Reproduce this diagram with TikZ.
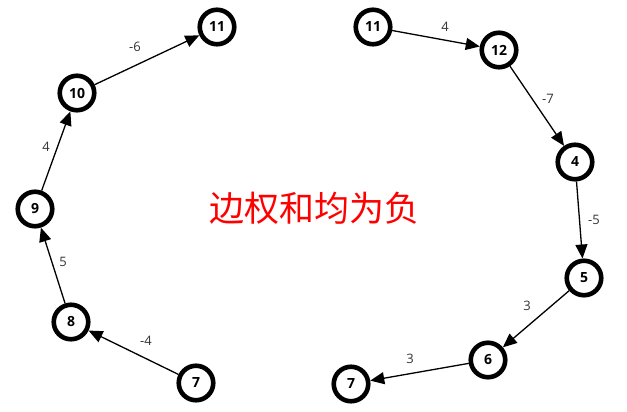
\documentclass[tikz,border=0pt]{standalone}
\usepackage{fontspec}
\setmainfont{Open Sans}
\newfontfamily\cjk{Noto Sans CJK SC}
\usetikzlibrary{arrows.meta}
\begin{document}
\begin{tikzpicture}[x=1pt,y=-1pt,
  vtx/.style={circle,draw=black,line width=4.6pt,minimum size=34.5pt,inner sep=0pt,fill=white,font=\fontsize{14}{14}\selectfont\bfseries},
  edge/.style={line width=1.3pt,-{Triangle[length=14pt,width=12pt]}},
  lbl/.style={font=\fontsize{13}{13}\selectfont,text=black!80}]
\useasboundingbox (0,0) rectangle (627,412);
\node[vtx] (a11) at (217,27) {11};
\node[vtx] (a10) at (77,93) {10};
\node[vtx] (a9) at (35,209) {9};
\node[vtx] (a8) at (71,322) {8};
\node[vtx] (a7) at (196,383) {7};
\node[vtx] (b11) at (373,27) {11};
\node[vtx] (b12) at (499,50) {12};
\node[vtx] (b4) at (575,162) {4};
\node[vtx] (b5) at (584,278) {5};
\node[vtx] (b6) at (488,360) {6};
\node[vtx] (b7) at (351,384) {7};
\draw[edge] (a7) -- (a8);
\draw[edge] (a8) -- (a9);
\draw[edge] (a9) -- (a10);
\draw[edge] (a10) -- (a11);
\draw[edge] (b11) -- (b12);
\draw[edge] (b12) -- (b4);
\draw[edge] (b4) -- (b5);
\draw[edge] (b5) -- (b6);
\draw[edge] (b6) -- (b7);
\node[lbl] (l1) at (135,47) {-6};
\node[lbl] (l2) at (46,147) {4};
\node[lbl] (l3) at (63,262) {5};
\node[lbl] (l4) at (146,341) {-4};
\node[lbl] (l5) at (445,27) {4};
\node[lbl] (l6) at (548,99) {-7};
\node[lbl] (l7) at (594,220) {-5};
\node[lbl] (l8) at (527,306) {3};
\node[lbl] (l9) at (410,359) {3};
\node[text=red,font=\cjk\fontsize{35}{35}\selectfont] (title) at (314,208) {边权和均为负};
\end{tikzpicture}
\end{document}
